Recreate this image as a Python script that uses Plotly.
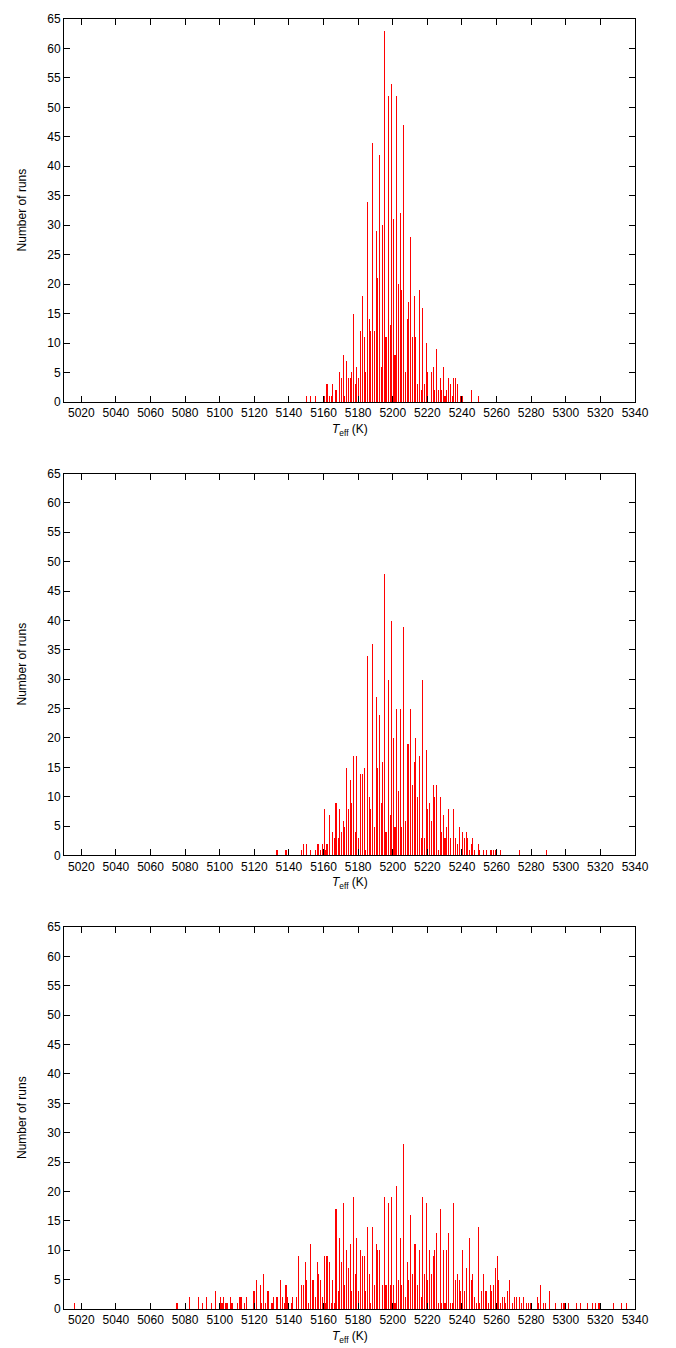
import plotly.graph_objects as go

# ---- data (Teff in K, number of runs) ----
top_T = [5149.9, 5152.2, 5155.1, 5160.3, 5162.0, 5163.2, 5164.4, 5164.9, 5167.2, 5169.0,
         5170.1, 5171.3, 5171.9, 5173.0, 5174.2, 5175.3, 5175.9, 5177.1, 5178.2, 5178.8,
         5180.0, 5181.1, 5182.3, 5183.4, 5184.0, 5185.2, 5186.3, 5186.9, 5188.1, 5189.2,
         5190.4, 5190.9, 5192.1, 5193.3, 5193.8, 5195.0, 5196.1, 5197.3, 5198.5, 5199.0,
         5200.2, 5201.3, 5201.9, 5203.1, 5204.2, 5204.8, 5206.0, 5207.1, 5208.3, 5208.9,
         5210.0, 5211.2, 5212.3, 5212.9, 5214.1, 5215.2, 5216.4, 5217.0, 5218.1, 5219.3,
         5219.8, 5222.2, 5223.3, 5223.9, 5225.0, 5226.2, 5227.4, 5227.9, 5229.1, 5230.2,
         5230.8, 5232.0, 5233.1, 5234.3, 5234.9, 5236.0, 5237.2, 5238.9, 5240.1, 5245.3,
         5249.3]
top_N = [1, 1, 1, 1, 3, 1, 1, 3, 2, 5,
         4, 8, 1, 7, 4, 4, 5, 15, 3, 6,
         4, 12, 18, 11, 5, 34, 14, 12, 44, 12,
         29, 21, 42, 6, 30, 63, 11, 52, 13, 54,
         31, 8, 52, 20, 32, 19, 47, 5, 14, 17,
         28, 11, 18, 11, 3, 19, 2, 16, 3, 10,
         5, 5, 6, 2, 9, 2, 4, 2, 6, 1,
         2, 4, 3, 1, 4, 4, 3, 1, 1, 2,
         1]

mid_T = [5133.1, 5138.3, 5147.0, 5148.2, 5149.9, 5152.2, 5155.1, 5156.3, 5156.8, 5158.0,
         5159.2, 5160.3, 5160.9, 5162.0, 5163.2, 5164.9, 5166.1, 5167.2, 5168.4, 5169.0,
         5170.1, 5171.3, 5171.9, 5173.0, 5174.2, 5175.3, 5175.9, 5177.1, 5178.2, 5178.8,
         5180.0, 5181.1, 5182.3, 5183.4, 5184.0, 5185.2, 5186.3, 5186.9, 5188.1, 5189.2,
         5190.4, 5190.9, 5192.1, 5193.3, 5193.8, 5195.0, 5196.1, 5197.3, 5198.5, 5199.0,
         5200.2, 5201.3, 5201.9, 5203.1, 5204.2, 5204.8, 5206.0, 5207.1, 5208.3, 5208.9,
         5210.0, 5211.2, 5212.3, 5212.9, 5214.1, 5215.2, 5216.4, 5217.0, 5218.1, 5219.3,
         5219.8, 5221.0, 5222.2, 5223.3, 5223.9, 5225.0, 5226.2, 5227.4, 5227.9, 5229.1,
         5230.2, 5230.8, 5232.0, 5233.1, 5234.9, 5236.0, 5237.2, 5238.3, 5240.1, 5241.2,
         5242.4, 5243.0, 5244.1, 5245.3, 5245.9, 5247.0, 5249.3, 5249.9, 5252.2, 5253.9,
         5256.3, 5256.8, 5258.0, 5259.1, 5262.0, 5273.0, 5289.0]
mid_N = [1, 1, 1, 2, 2, 1, 1, 2, 2, 1,
         2, 8, 1, 2, 7, 4, 3, 9, 3, 8,
         4, 6, 5, 15, 8, 13, 9, 17, 4, 17,
         3, 14, 14, 15, 1, 34, 10, 8, 36, 5,
         27, 15, 24, 9, 16, 48, 4, 30, 7, 40,
         20, 5, 25, 11, 25, 5, 39, 6, 19, 19,
         25, 12, 16, 20, 10, 17, 3, 30, 3, 18,
         8, 9, 6, 12, 10, 12, 1, 10, 4, 7,
         3, 5, 8, 3, 8, 3, 2, 5, 4, 3,
         4, 3, 1, 2, 3, 1, 2, 1, 1, 1,
         1, 1, 1, 1, 1, 1, 1]

bot_T = [5015.8, 5075.3, 5082.3, 5088.0, 5089.8, 5092.1, 5095.0, 5097.3, 5100.2, 5101.3,
         5101.9, 5103.1, 5104.2, 5106.0, 5107.1, 5110.0, 5111.2, 5112.3, 5114.1, 5115.2,
         5119.3, 5119.8, 5121.0, 5123.3, 5123.9, 5125.1, 5126.2, 5127.4, 5127.9, 5130.2,
         5130.8, 5133.1, 5134.9, 5136.0, 5137.2, 5138.3, 5138.9, 5141.2, 5141.8, 5144.1,
         5145.3, 5145.8, 5147.0, 5148.2, 5149.3, 5149.9, 5151.1, 5152.2, 5153.4, 5153.9,
         5155.1, 5156.3, 5156.8, 5158.0, 5159.2, 5160.3, 5160.9, 5162.0, 5163.2, 5164.4,
         5164.9, 5166.1, 5167.2, 5168.4, 5169.0, 5170.1, 5171.3, 5171.9, 5173.0, 5174.2,
         5175.3, 5175.9, 5177.1, 5178.2, 5178.8, 5180.0, 5181.1, 5182.3, 5183.4, 5184.0,
         5185.2, 5186.3, 5186.9, 5188.1, 5189.2, 5190.4, 5190.9, 5192.1, 5193.8, 5195.0,
         5196.1, 5197.3, 5198.5, 5199.0, 5200.2, 5201.3, 5201.9, 5203.1, 5204.2, 5204.8,
         5206.0, 5207.1, 5208.3, 5208.9, 5210.0, 5211.2, 5212.3, 5212.9, 5214.1, 5215.2,
         5216.4, 5217.0, 5218.1, 5219.3, 5219.8, 5221.0, 5222.2, 5223.3, 5223.9, 5225.0,
         5226.2, 5227.4, 5227.9, 5229.1, 5230.2, 5230.8, 5232.0, 5233.1, 5234.3, 5234.9,
         5236.0, 5237.2, 5238.3, 5238.9, 5240.1, 5241.2, 5242.4, 5244.1, 5245.3, 5245.9,
         5247.0, 5248.2, 5249.3, 5249.9, 5251.1, 5252.2, 5253.4, 5253.9, 5255.1, 5256.3,
         5256.8, 5258.0, 5259.1, 5260.3, 5260.9, 5262.0, 5263.2, 5264.4, 5264.9, 5266.1,
         5267.2, 5269.0, 5270.1, 5271.3, 5273.0, 5274.2, 5275.3, 5277.1, 5278.2, 5279.4,
         5279.9, 5283.4, 5284.0, 5285.2, 5286.9, 5288.1, 5290.4, 5293.8, 5297.3, 5298.5,
         5299.0, 5301.4, 5306.0, 5308.3, 5312.3, 5315.2, 5316.9, 5319.2, 5327.4, 5332.0,
         5334.9]
bot_N = [1, 1, 2, 2, 1, 2, 1, 3, 2, 1,
         2, 1, 1, 2, 1, 1, 2, 2, 1, 2,
         3, 3, 5, 4, 1, 6, 1, 3, 3, 1,
         2, 2, 5, 2, 1, 4, 2, 1, 2, 2,
         9, 2, 4, 4, 8, 5, 1, 11, 3, 5,
         2, 8, 6, 5, 2, 9, 1, 9, 8, 1,
         5, 1, 17, 3, 12, 8, 18, 4, 10, 7,
         11, 3, 19, 6, 12, 3, 10, 9, 9, 3,
         14, 6, 1, 14, 4, 11, 10, 10, 4, 19,
         4, 18, 4, 19, 4, 1, 21, 5, 12, 4,
         28, 2, 8, 5, 16, 6, 11, 11, 4, 10,
         2, 19, 6, 18, 5, 10, 6, 9, 10, 13,
         1, 17, 1, 10, 1, 10, 13, 1, 1, 18,
         5, 6, 5, 3, 10, 3, 7, 12, 5, 6,
         2, 1, 14, 1, 3, 6, 3, 3, 1, 4,
         3, 4, 7, 9, 5, 1, 2, 2, 1, 3,
         5, 1, 2, 2, 2, 1, 2, 1, 1, 1,
         1, 2, 1, 4, 1, 1, 3, 1, 1, 1,
         1, 1, 1, 1, 1, 1, 1, 1, 1, 1,
         1]

x_ticks = list(range(5020, 5341, 20))
y_ticks = list(range(0, 66, 5))
x_title = "<i>T</i><sub>eff</sub> (K)"
y_title = "Number of runs"

panels = [(top_T, top_N), (mid_T, mid_N), (bot_T, bot_N)]
for T, N in panels:
    assert len(T) == len(N)

# ---- layout geometry (pixels) ----
W, H = 676, 1348
ML, MR, MT, MB = 64, 41, 12, 39
PH = H - MT - MB
panel_px = [(12, 397), (469, 853), (925, 1309)]   # top, bottom pixel rows of each panel


def to_paper(py):
    return (H - MB - py) / PH


FONT = "Liberation Sans, Arial, Helvetica, sans-serif"

fig = go.Figure()
annotations = []
for i, ((T, N), (ptop, pbot)) in enumerate(zip(panels, panel_px)):
    k = "" if i == 0 else str(i + 1)
    fig.add_trace(go.Bar(
        x=T, y=N, width=0.6,
        marker=dict(color="rgba(255,0,0,0.995)", line=dict(width=0)),
        xaxis="x" + k, yaxis="y" + k, showlegend=False,
    ))
    common = dict(showline=True, linecolor="black", linewidth=1, mirror="ticks",
                  ticks="inside", ticklen=6, tickwidth=1, tickcolor="black",
                  showgrid=False, zeroline=False,
                  tickfont=dict(family=FONT, size=12, color="black"))
    fig.update_layout(**{
        "xaxis" + k: dict(range=[5010, 5340], tickmode="array", tickvals=x_ticks,
                          anchor="y" + k, domain=[0, 1], **common),
        "yaxis" + k: dict(range=[0, 65], tickmode="array", tickvals=y_ticks,
                          anchor="x" + k, domain=[to_paper(pbot), to_paper(ptop)],
                          **common),
    })
    annotations.append(dict(text=x_title, xref="paper", yref="paper",
                            x=0.5, y=to_paper(pbot + 28), xanchor="center",
                            yanchor="middle", showarrow=False,
                            font=dict(family=FONT, size=12, color="black")))
    annotations.append(dict(text=y_title, xref="paper", yref="paper",
                            x=(22 - ML) / (W - ML - MR), y=to_paper((ptop + pbot) / 2),
                            xanchor="center", yanchor="middle", textangle=-90,
                            showarrow=False,
                            font=dict(family=FONT, size=12, color="black")))

fig.update_layout(width=W, height=H, margin=dict(l=ML, r=MR, t=MT, b=MB),
                  plot_bgcolor="white", paper_bgcolor="white",
                  bargap=0, barmode="overlay", annotations=annotations,
                  font=dict(family=FONT, size=12, color="black"))

fig.write_html("out.html", config={"displayModeBar": False},
               post_script="document.body.style.margin='0';document.body.style.padding='0';")
